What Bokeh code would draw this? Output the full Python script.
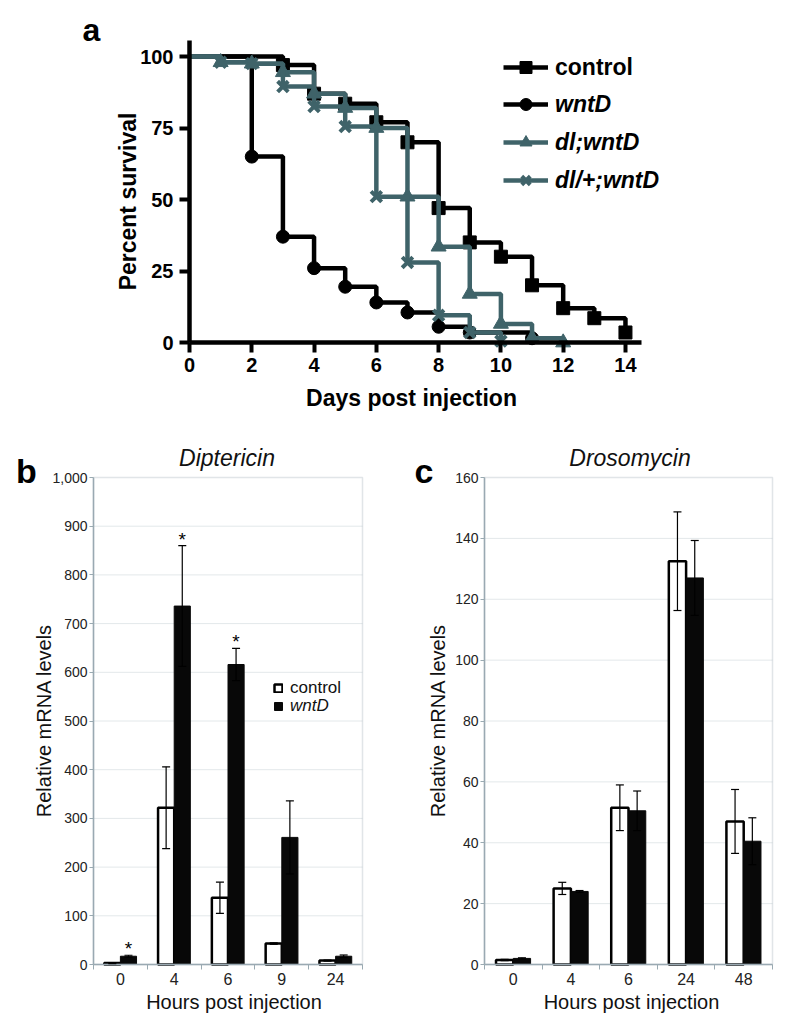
import math
from bokeh.plotting import figure
from bokeh.layouts import column, row
from bokeh.models import (ColumnDataSource, Legend, LegendItem, Label, FixedTicker,
                          Whisker, TeeHead, Range1d, NumeralTickFormatter, BoxAnnotation)
from bokeh.embed import file_html
from bokeh.resources import INLINE
from bokeh.core.properties import value

FONT = "Liberation Sans"
TEAL = "#3f6369"
FRAME_COL = "#9aaab2"

# ---------------- Panel a data (survival, %) ----------------
ctrl_days = [0, 3, 4, 5, 6, 7, 8, 9, 10, 11, 12, 13, 14]
ctrl_surv = [100, 97, 87, 83.5, 77, 70, 47, 35, 30, 20, 12, 8.5, 3.5]
wntd_days = [0, 2, 3, 4, 5, 6, 7, 8, 9, 11]
wntd_surv = [100, 65, 37, 26, 19.5, 14, 10.5, 5.5, 3.5, 1.5]
dlw_days = [0, 1, 2, 3, 4, 5, 6, 7, 8, 9, 10, 11, 12]
dlw_surv = [100, 98, 97.5, 94.5, 87, 82, 75, 51, 33.5, 17, 6.5, 1.5, 0]
dlp_days = [0, 1, 2, 3, 4, 5, 6, 7, 8, 9, 10]
dlp_surv = [100, 98, 97.5, 89.5, 82.5, 75.5, 51, 28, 9.5, 3.5, 0.5]
a_x_ticks = [0, 2, 4, 6, 8, 10, 12, 14]
a_y_ticks = [0, 25, 50, 75, 100]

# ---------------- Panel b data (Diptericin) ----------------
b_hours = ["0", "4", "6", "9", "24"]
b_control = [3, 322, 137, 43, 8]
b_control_err = [1, 84, 32, 1.5, 1]
b_wntd = [17, 736, 616, 261, 17]
b_wntd_err = [2, 124, 33, 75, 2.5]
b_sig = [True, True, True, False, False]

# ---------------- Panel c data (Drosomycin) ----------------
c_hours = ["0", "4", "6", "24", "48"]
c_control = [1.5, 25, 51.5, 132.5, 47]
c_control_err = [0.2, 2, 7.5, 16.2, 10.5]
c_wntd = [2, 24, 50.5, 127, 40.5]
c_wntd_err = [0.2, 0.3, 6.5, 12.3, 7.7]


def style_axis(ax, size, bold, color, line_col, line_w):
    ax.axis_line_color = line_col
    ax.axis_line_width = line_w
    ax.major_label_text_font = FONT
    ax.major_label_text_font_size = size
    ax.major_label_text_font_style = "bold" if bold else "normal"
    ax.major_label_text_color = color
    ax.major_tick_line_color = line_col
    ax.minor_tick_line_color = line_col
    ax.minor_tick_in = 0
    ax.major_tick_in = 0


def add_label(p, x, y, text, size, style="normal", angle=0.0, color="black",
              align="center", baseline="middle"):
    p.add_layout(Label(x=x, y=y, text=text, text_font=FONT, text_font_size=size,
                       text_font_style=style, text_color=color, angle=angle,
                       text_align=align, text_baseline=baseline))


# =============================== Panel a ===============================
A_W, A_H = 800, 420
A_X0, A_XPD = 189.0, 31.14     # pixel of day 0, pixels per day
A_Y0, A_YPU = 342.0, 2.86      # pixel of 0 %, pixels per percent


def ax_(px):
    return (px - A_X0) / A_XPD


def ay_(py):
    return (A_Y0 - py) / A_YPU


pA = figure(width=A_W, height=A_H, x_range=Range1d(ax_(0), ax_(A_W)), y_range=Range1d(ay_(A_H), ay_(0)),
            output_backend="svg", toolbar_location=None, min_border=0)
pA.outline_line_color = None
pA.grid.visible = False

series = [
    ("control", ctrl_days, ctrl_surv, "black", "square", 13, 1),
    ("wntD", wntd_days, wntd_surv, "black", "circle", 13, 1),
    ("dl;wntD", dlw_days, dlw_surv, TEAL, "triangle", 15, 1),
    ("dl/+;wntD", dlp_days, dlp_surv, TEAL, "x", 15, 4),
]
items_a = {}
for name, d, s, col, mk, sz, lw in series:
    r1 = pA.step(d, s, mode="after", line_color=col, line_width=4.5)
    r2 = pA.scatter(d[1:], s[1:], marker=mk, size=sz, fill_color=col, line_color=col, line_width=lw)
    items_a[name] = [r1, r2]

for ax in (pA.xaxis, pA.yaxis):
    style_axis(ax, "20px", True, "black", "black", 4.5)
    ax.fixed_location = 0
    ax.major_tick_line_width = 4
    ax.major_tick_out = 10
    ax.minor_tick_out = 0
pA.xaxis.ticker = FixedTicker(ticks=a_x_ticks)
pA.yaxis.ticker = FixedTicker(ticks=a_y_ticks)
pA.xaxis.bounds = (0, 14.5)
pA.yaxis.bounds = (0, 105.5)
pA.xaxis.major_label_standoff = 5
pA.yaxis.major_label_standoff = 6

add_label(pA, ax_(91), ay_(29), "a", "32px", "bold")
add_label(pA, ax_(127), ay_(201), "Percent survival", "23px", "bold", angle=math.pi / 2)
add_label(pA, ax_(411), ay_(397), "Days post injection", "23px", "bold")


def make_legend(items, loc, style, size, gw, gh, spacing, standoff, color="black"):
    return Legend(items=items, location=loc, border_line_color=None, background_fill_alpha=0,
                  padding=0, margin=0, glyph_width=gw, glyph_height=gh, label_height=gh,
                  spacing=spacing, label_standoff=standoff,
                  label_text_font=FONT, label_text_font_style=style,
                  label_text_font_size=size, label_text_color=color)


pA.add_layout(make_legend([LegendItem(label="control", renderers=items_a["control"])],
                          (503, 338), "bold", "23px", 45, 30, 8, 7), "center")
pA.add_layout(make_legend([LegendItem(label=n, renderers=items_a[n]) for n in ["wntD", "dl;wntD", "dl/+;wntD"]],
                          (503, 225), "bold italic", "23px", 45, 30, 8, 7), "center")

# =============================== Panels b, c ===============================
B_W, B_H = 400, 607
Y0_PX, YTOP_PX = 544.0, 57.0   # local pixels of y=0 and y=ymax


def bar_panel(hours, ctrl, ctrl_err, wnt, wnt_err, ymax, ystep, fmt, title, letter,
              x0_px, x1_px, pos, sig=None, legend=False):
    n = len(hours)
    pxu = (x1_px - x0_px) / n
    pyu = (Y0_PX - YTOP_PX) / ymax

    def fx(px):
        return (px - x0_px) / pxu

    def fy(py):
        return (Y0_PX - py) / pyu

    p = figure(width=B_W, height=B_H, x_range=Range1d(fx(0), fx(B_W)), y_range=Range1d(fy(B_H), fy(0)),
               output_backend="svg", toolbar_location=None, min_border=0)
    p.outline_line_color = None
    p.grid.visible = False

    yt = list(range(0, ymax + 1, ystep))
    p.segment(x0=[0] * (len(yt) - 2), x1=[n] * (len(yt) - 2), y0=yt[1:-1], y1=yt[1:-1],
              line_color="#e3e8ea", line_width=1, level="underlay")

    xc = [i + 0.5 - 0.15 for i in range(n)]
    xw = [i + 0.5 + 0.15 for i in range(n)]
    rc = p.vbar(x=xc, top=ctrl, width=0.3, fill_color="white", line_color="black", line_width=2.5)
    rw = p.vbar(x=xw, top=wnt, width=0.3, fill_color="#080808", line_color="#080808", line_width=1)

    src = ColumnDataSource(dict(
        x=xc + xw,
        upper=[v + e for v, e in zip(ctrl, ctrl_err)] + [v + e for v, e in zip(wnt, wnt_err)],
        lower=[v - e for v, e in zip(ctrl, ctrl_err)] + [v - e for v, e in zip(wnt, wnt_err)],
    ))
    wh = Whisker(source=src, base="x", upper="upper", lower="lower", dimension="height",
                 line_color="black", line_width=1.2,
                 upper_head=TeeHead(size=8, line_width=1.2, line_color="black"),
                 lower_head=TeeHead(size=8, line_width=1.2, line_color="black"))
    wh.level = "overlay"
    p.add_layout(wh)

    if sig is not None:
        sx = [x for x, s in zip(xw, sig) if s]
        sy = [v + e for v, e, s in zip(wnt, wnt_err, sig) if s]
        p.text(x=sx, y=sy, text=["*"] * len(sx), text_font=value(FONT), text_font_size="19px",
               text_align="center", text_baseline="bottom", y_offset=4, text_color="black")

    # plot box (top and right edges; left and bottom are the axes)
    p.add_layout(BoxAnnotation(left=0, right=n, bottom=0, top=ymax, fill_alpha=0,
                               line_color=FRAME_COL, line_width=1.5))

    for ax in (p.xaxis, p.yaxis):
        style_axis(ax, "14px", False, "#222222", FRAME_COL, 1.5)
        ax.fixed_location = 0
    p.xaxis.bounds = (0, n)
    p.yaxis.bounds = (0, ymax)
    p.xaxis.ticker = FixedTicker(ticks=[i + 0.5 for i in range(n)], minor_ticks=list(range(n + 1)))
    p.xaxis.major_label_overrides = {i + 0.5: h for i, h in enumerate(hours)}
    p.xaxis.major_tick_out = 0
    p.xaxis.minor_tick_out = 5
    p.xaxis.major_label_text_font_size = "16px"
    p.xaxis.major_label_standoff = 3
    p.yaxis.ticker = FixedTicker(ticks=yt)
    p.yaxis.formatter = NumeralTickFormatter(format=fmt)
    p.yaxis.major_tick_out = 4
    p.yaxis.minor_tick_out = 0
    p.yaxis.major_label_standoff = 2

    lx, ly, tx, ty, ylx, xlx = pos
    add_label(p, fx(lx), fy(ly), letter, "34px", "bold")
    add_label(p, fx(tx), fy(ty), title, "23px", "italic", color="#111111")
    add_label(p, fx(ylx), fy(300), "Relative mRNA levels", "20px", angle=math.pi / 2, color="#111111")
    add_label(p, fx(xlx), fy(581), "Hours post injection", "20px", color="#111111")

    if legend:
        p.add_layout(make_legend([LegendItem(label="control", renderers=[rc])], (273, 329),
                                 "normal", "17px", 10, 10, 0, 7, "#111111"), "center")
        p.add_layout(make_legend([LegendItem(label="wntD", renderers=[rw])], (273, 311),
                                 "italic", "17px", 10, 10, 0, 7, "#111111"), "center")
    return p


# pos = (letter x, letter mid y, title x, title mid y, y-label x, x-label x) in local px
pB = bar_panel(b_hours, b_control, b_control_err, b_wntd, b_wntd_err, 1000, 100, "0,0",
               "Diptericin", "b", 93, 362, (26, 50, 226.5, 37, 43, 233.5), sig=b_sig, legend=True)
pC = bar_panel(c_hours, c_control, c_control_err, c_wntd, c_wntd_err, 160, 20, "0",
               "Drosomycin", "c", 84, 372, (23.5, 50, 229.5, 37, 37, 231))

layout = column(pA, row(pB, pC, spacing=0), spacing=0)
open("out.html", "w").write(file_html(layout, INLINE))
